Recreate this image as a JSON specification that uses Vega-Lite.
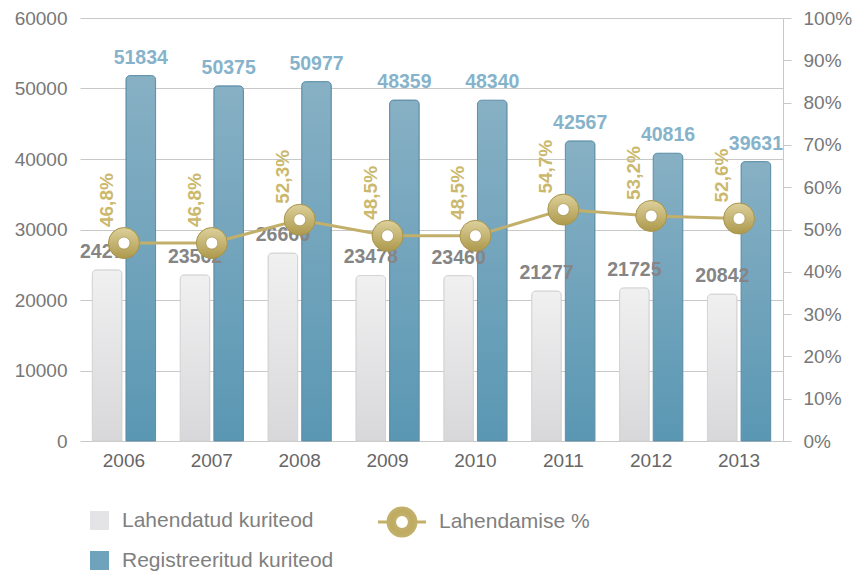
{
  "$schema": "https://vega.github.io/schema/vega-lite/v6.json",
  "width": 703,
  "height": 423,
  "autosize": {"type": "none"},
  "padding": {"left": 80, "top": 18, "right": 73, "bottom": 132},
  "background": "white",
  "config": {
    "font": "Liberation Sans",
    "view": {"stroke": null},
    "locale": {"number": {"decimal": ",", "thousands": " ", "grouping": [3], "currency": ["", " €"]}},
    "axis": {"labelFont": "Liberation Sans", "labelFontSize": 19, "labelColor": "#777777", "title": null},
    "legend": {"labelFont": "Liberation Sans", "labelFontSize": 21, "labelColor": "#808080", "padding": 0, "labelLimit": 500}
  },
  "datasets": {
    "bars": [
      {"year": "2006", "series": "Lahendatud kuriteod", "value": 24276},
      {"year": "2006", "series": "Registreeritud kuriteod", "value": 51834},
      {"year": "2007", "series": "Lahendatud kuriteod", "value": 23562},
      {"year": "2007", "series": "Registreeritud kuriteod", "value": 50375},
      {"year": "2008", "series": "Lahendatud kuriteod", "value": 26660},
      {"year": "2008", "series": "Registreeritud kuriteod", "value": 50977},
      {"year": "2009", "series": "Lahendatud kuriteod", "value": 23478},
      {"year": "2009", "series": "Registreeritud kuriteod", "value": 48359},
      {"year": "2010", "series": "Lahendatud kuriteod", "value": 23460},
      {"year": "2010", "series": "Registreeritud kuriteod", "value": 48340},
      {"year": "2011", "series": "Lahendatud kuriteod", "value": 21277},
      {"year": "2011", "series": "Registreeritud kuriteod", "value": 42567},
      {"year": "2012", "series": "Lahendatud kuriteod", "value": 21725},
      {"year": "2012", "series": "Registreeritud kuriteod", "value": 40816},
      {"year": "2013", "series": "Lahendatud kuriteod", "value": 20842},
      {"year": "2013", "series": "Registreeritud kuriteod", "value": 39631}
    ],
    "pct": [
      {"year": "2006", "pct": 0.468},
      {"year": "2007", "pct": 0.468},
      {"year": "2008", "pct": 0.523},
      {"year": "2009", "pct": 0.485},
      {"year": "2010", "pct": 0.485},
      {"year": "2011", "pct": 0.547},
      {"year": "2012", "pct": 0.532},
      {"year": "2013", "pct": 0.526}
    ]
  },
  "layer": [
    {
      "data": {"name": "bars"},
      "encoding": {
        "x": {
          "field": "year", "type": "nominal",
          "scale": {"paddingInner": 0.28, "paddingOuter": 0.14},
          "axis": {"labelAngle": 0, "domain": false, "ticks": false, "labelPadding": 10, "labelColor": "#666666"}
        },
        "xOffset": {
          "field": "series", "type": "nominal",
          "scale": {"domain": ["Lahendatud kuriteod", "Registreeritud kuriteod"], "paddingInner": 0.12}
        },
        "y": {
          "field": "value", "type": "quantitative",
          "scale": {"domain": [0, 60000], "nice": false},
          "axis": {"values": [0, 10000, 20000, 30000, 40000, 50000, 60000], "format": "d", "domain": false, "ticks": false, "grid": true, "gridColor": "#c8c8c8", "labelPadding": 13}
        }
      },
      "layer": [
        {
          "mark": {"type": "square", "opacity": 0},
          "encoding": {
            "color": {
              "field": "series", "type": "nominal",
              "scale": {"domain": ["Lahendatud kuriteod", "Registreeritud kuriteod"], "range": ["#e4e4e6", "#6fa2bb"]},
              "legend": {
                "title": null, "orient": "none", "legendX": 9, "legendY": 492, "direction": "vertical",
                "symbolType": "square", "symbolSize": 361, "symbolStrokeWidth": 0, "symbolOpacity": 1,
                "labelOffset": 12, "rowPadding": 18,
                "encode": {"symbols": {"update": {"opacity": {"value": 1}, "fillOpacity": {"value": 1}}}}
              }
            }
          }
        },
        {
          "mark": {"type": "bar", "cornerRadiusTopLeft": 4, "cornerRadiusTopRight": 4, "strokeWidth": 1},
          "encoding": {
            "fill": {
              "condition": {
                "test": "datum.series === 'Registreeritud kuriteod'",
                "value": {"gradient": "linear", "x1": 0, "y1": 0, "x2": 0, "y2": 1, "stops": [{"offset": 0, "color": "#87b0c4"}, {"offset": 1, "color": "#5a97b3"}]}
              },
              "value": {"gradient": "linear", "x1": 0, "y1": 0, "x2": 0, "y2": 1, "stops": [{"offset": 0, "color": "#f0f0f1"}, {"offset": 1, "color": "#d8d8da"}]}
            },
            "stroke": {
              "condition": {"test": "datum.series === 'Registreeritud kuriteod'", "value": "#5e8fa8"},
              "value": "#d3d3d5"
            }
          }
        },
        {
          "mark": {"type": "text", "fontWeight": "bold", "fontSize": 19.5, "baseline": "alphabetic", "dy": -12},
          "encoding": {
            "text": {"field": "value", "type": "quantitative", "format": "d"},
            "color": {
              "condition": {"test": "datum.series === 'Registreeritud kuriteod'", "value": "#86b3cb"},
              "value": "#858585"
            }
          }
        }
      ]
    },
    {
      "data": {"name": "pct"},
      "encoding": {
        "x": {"field": "year", "type": "nominal"},
        "y": {
          "field": "pct", "type": "quantitative",
          "scale": {"domain": [0, 1], "nice": false},
          "axis": {"orient": "right", "values": [0, 0.1, 0.2, 0.3, 0.4, 0.5, 0.6, 0.7, 0.8, 0.9, 1], "format": ".0%", "grid": false, "domain": true, "domainColor": "#c8c8c8", "ticks": true, "tickColor": "#c8c8c8", "tickSize": 8, "labelPadding": 12}
        }
      },
      "layer": [
        {
          "mark": {"type": "line", "strokeWidth": 3},
          "encoding": {
            "stroke": {
              "datum": "Lahendamise %",
              "scale": {"domain": ["Lahendamise %"], "range": ["#c2b06a"]},
              "legend": {
                "title": null, "orient": "none", "legendX": 305, "legendY": 487,
                "symbolType": "M-1.55,0L-0.9,0M0.9,0L1.55,0M-0.9,0A0.9,0.9 0 1,0 0.9,0A0.9,0.9 0 1,0 -0.9,0ZM-0.48,0A0.48,0.48 0 1,1 0.48,0A0.48,0.48 0 1,1 -0.48,0Z",
                "symbolSize": 961, "symbolFillColor": "#bfac62", "symbolStrokeColor": "#bfac62", "symbolStrokeWidth": 3, "labelOffset": 20,
                "encode": {"symbols": {"update": {"fill": {"value": "#bfac62"}, "stroke": {"value": "#bfac62"}, "strokeWidth": {"value": 3}}}}
              }
            }
          }
        },
        {
          "mark": {
            "type": "point", "filled": true, "size": 961, "opacity": 1,
            "fill": {"gradient": "linear", "x1": 0, "y1": 0, "x2": 0, "y2": 1, "stops": [{"offset": 0, "color": "#ddd09b"}, {"offset": 1, "color": "#ad994c"}]},
            "stroke": "#a8954c", "strokeWidth": 1
          }
        },
        {
          "mark": {"type": "point", "filled": true, "size": 144, "opacity": 1, "fill": "#ffffff", "stroke": "#9c8a45", "strokeWidth": 0.6}
        },
        {
          "mark": {"type": "text", "angle": 270, "align": "left", "baseline": "middle", "dx": 16, "dy": -17, "fontWeight": "bold", "fontSize": 19, "color": "#cbb86d"},
          "encoding": {"text": {"field": "pct", "type": "quantitative", "format": ".1%"}}
        }
      ]
    }
  ],
  "resolve": {"scale": {"y": "independent"}}
}
